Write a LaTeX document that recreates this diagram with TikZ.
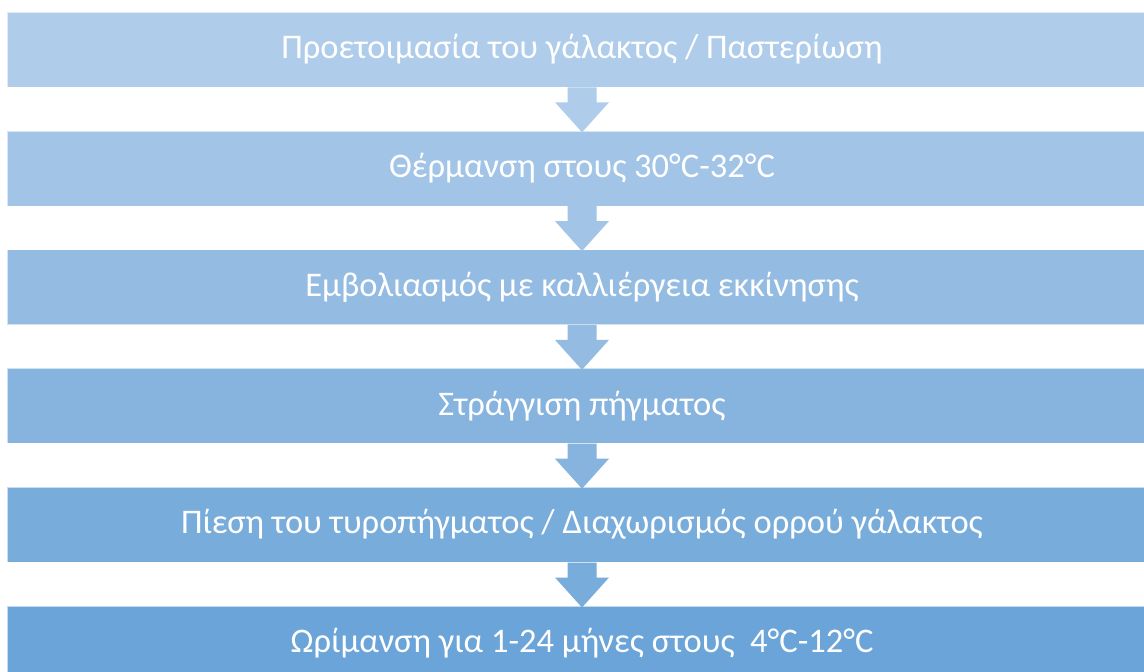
\documentclass[tikz,border=0pt]{standalone}
\usepackage{fontspec}
\setmainfont{Carlito}
\usetikzlibrary{calc}
\definecolor{c1}{RGB}{175,205,234}
\definecolor{c2}{RGB}{162,196,230}
\definecolor{c3}{RGB}{148,188,226}
\definecolor{c4}{RGB}{134,180,222}
\definecolor{c5}{RGB}{120,172,219}
\definecolor{c6}{RGB}{107,164,216}
\tikzset{
  stepbox/.style={rectangle, minimum width=1150pt, minimum height=75pt, inner sep=0pt,
    draw=white, draw opacity=0.6, line width=0.6pt, text=white,
    font=\fontsize{34.5}{40}\selectfont},
  downarrow/.style={fill=#1, draw=none}
}
\newcommand{\flowarrow}[2]{%
  \fill[#2] ($(#1.south)+(-14.5pt,0)$) -- ++(0,-15pt) -- ++(-12.5pt,0)
    -- ($(#1.south)+(0,-45pt)$) -- ($(#1.south)+(27pt,-15pt)$)
    -- ++(-12.5pt,0) -- ($(#1.south)+(14.5pt,0)$) -- cycle;}
\begin{document}
\begin{tikzpicture}[x=1pt,y=1pt]
\useasboundingbox (0,0) rectangle (1144,-672);
\fill[white] (0,0) rectangle (1144,-672);
\node[stepbox, fill=c1] (b1) at (582,-49.5) {Προετοιμασία του γάλακτος / Παστερίωση};
\node[stepbox, fill=c2] (b2) at (582,-168.3) {Θέρμανση στους 30°C-32°C};
\node[stepbox, fill=c3] (b3) at (582,-287.1) {Εμβολιασμός με καλλιέργεια εκκίνησης};
\node[stepbox, fill=c4] (b4) at (582,-405.9) {Στράγγιση πήγματος};
\node[stepbox, fill=c5] (b5) at (582,-524.7) {Πίεση του τυροπήγματος / Διαχωρισμός ορρού γάλακτος};
\node[stepbox, fill=c6] (b6) at (582,-643.5) {Ωρίμανση για 1-24 μήνες στους \ 4°C-12°C};
\flowarrow{b1}{c1}
\flowarrow{b2}{c2}
\flowarrow{b3}{c3}
\flowarrow{b4}{c4}
\flowarrow{b5}{c5}
\end{tikzpicture}
\end{document}
